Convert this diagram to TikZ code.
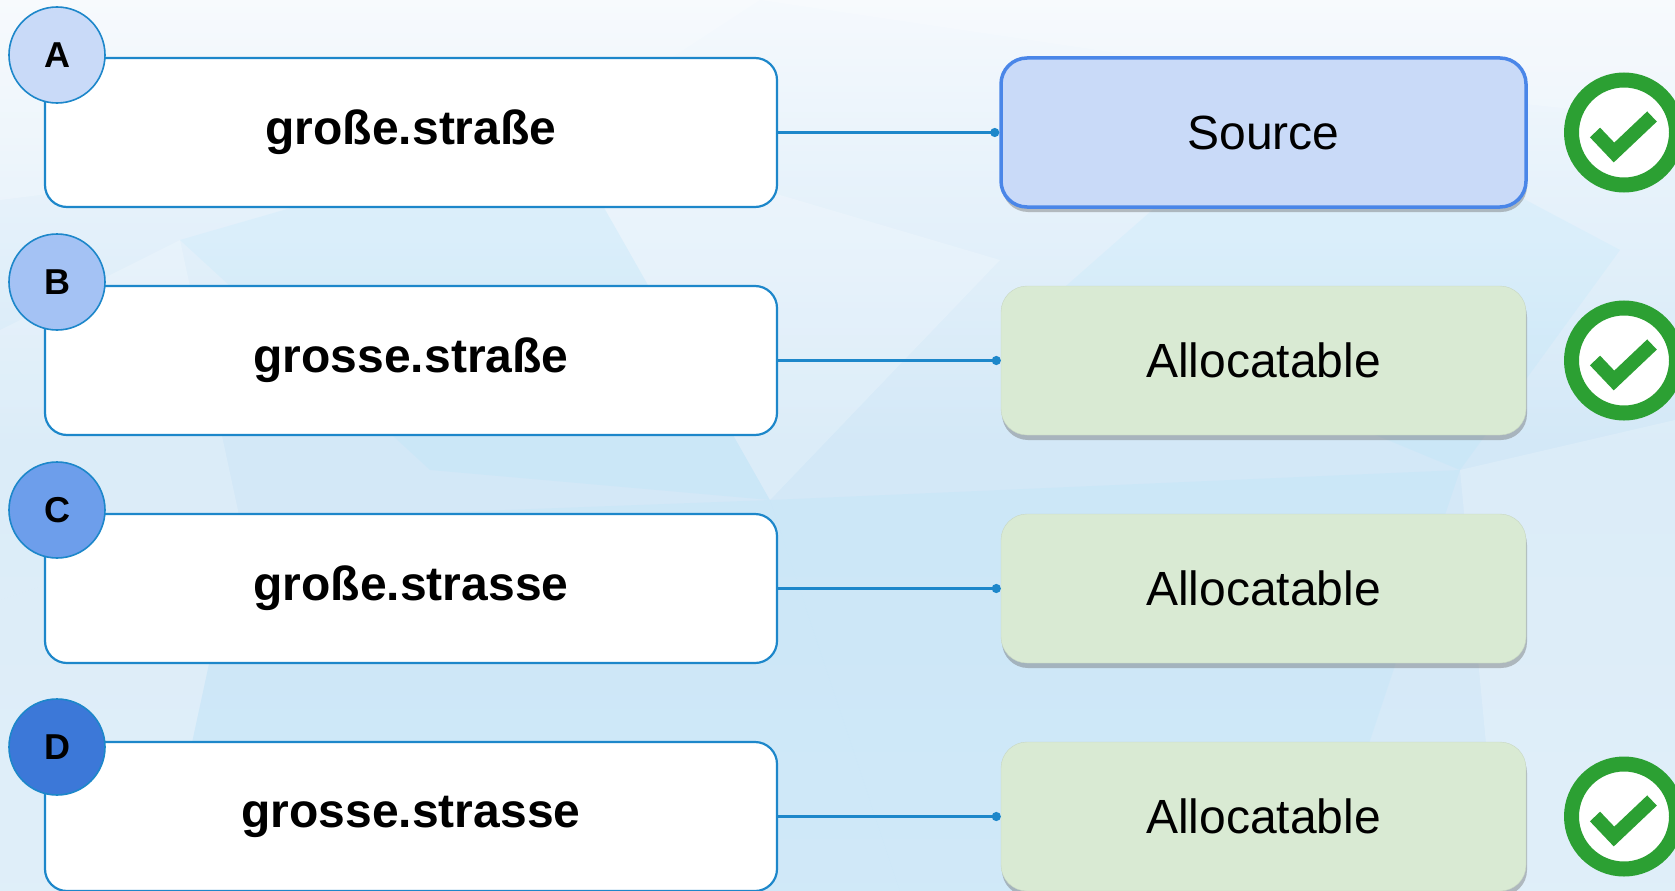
\documentclass[tikz,border=0pt]{standalone}
\usepackage{fontspec}
\setmainfont{Liberation Sans}
\usetikzlibrary{arrows.meta,shadows}
\definecolor{bgtop}{HTML}{F5F9FD}
\definecolor{bgmid}{HTML}{D3E8F7}
\definecolor{edgeblue}{HTML}{1D87CA}
\definecolor{circA}{HTML}{C9DAF8}
\definecolor{circB}{HTML}{A4C2F4}
\definecolor{circC}{HTML}{6D9EEB}
\definecolor{circD}{HTML}{3C78D8}
\definecolor{srcfill}{HTML}{C9DAF8}
\definecolor{srcedge}{HTML}{4A86E8}
\definecolor{allocfill}{HTML}{D9EAD3}
\definecolor{okgreen}{HTML}{2CA033}
\tikzset{
  namebox/.style={draw=edgeblue, line width=2.2pt, fill=white, rounded corners=22pt,
    minimum width=732pt, minimum height=149pt, inner sep=0pt,
    font=\fontsize{48}{56}\selectfont\bfseries},
  letter/.style={circle, draw=edgeblue, line width=1.6pt, minimum size=96pt, inner sep=0pt,
    font=\fontsize{36}{42}\selectfont\bfseries},
  srcbox/.style={draw=srcedge, line width=3.5pt, fill=srcfill, rounded corners=26pt,
    minimum width=525pt, minimum height=149pt, inner sep=0pt,
    font=\fontsize{48}{56}\selectfont,
    drop shadow={opacity=0.4, shadow xshift=1pt, shadow yshift=-5pt, fill=black!60}},
  allocbox/.style={draw=allocfill!92!black, line width=0.4pt, fill=allocfill, rounded corners=26pt,
    minimum width=525pt, minimum height=149pt, inner sep=0pt,
    font=\fontsize{48}{56}\selectfont,
    drop shadow={opacity=0.4, shadow xshift=1pt, shadow yshift=-5pt, fill=black!60}},
  conn/.style={draw=edgeblue, line width=2.5pt, -{Circle[length=9pt]}},
  checkring/.style={circle, draw=okgreen, line width=15pt, fill=white, minimum size=105pt, inner sep=0pt},
  checkstroke/.style={draw=okgreen, line width=14pt, line join=miter, line cap=butt},
  facet/.style={fill=white, opacity=0.2, draw=none},
  dfacet/.style={fill=blue!30!cyan!40!white, opacity=0.12, draw=none}
}
\begin{document}
\begin{tikzpicture}[x=1pt,y=-1pt]
% background
\shade[top color=bgtop, bottom color=bgmid!85!bgtop, middle color=bgmid] (0,0) rectangle (1675,891);
\useasboundingbox (0,0) rectangle (1675,891);
\fill[facet] (0,0) -- (760,0) -- (560,130) -- (0,200) -- cycle;
\fill[facet] (760,0) -- (1675,0) -- (1675,120) -- (1300,80) -- cycle;
\fill[facet] (0,330) -- (180,240) -- (240,520) -- (0,600) -- cycle;
\fill[dfacet] (180,240) -- (560,130) -- (770,500) -- (430,470) -- cycle;
\fill[facet] (560,130) -- (1000,260) -- (770,500) -- cycle;
\fill[dfacet] (1300,80) -- (1620,250) -- (1460,470) -- (1050,300) -- cycle;
\fill[facet] (0,600) -- (240,520) -- (160,891) -- (0,891) -- cycle;
\fill[dfacet] (240,520) -- (770,500) -- (900,891) -- (160,891) -- cycle;
\fill[facet] (1460,470) -- (1675,420) -- (1675,891) -- (1500,891) -- cycle;
\fill[dfacet] (770,500) -- (1460,470) -- (1320,891) -- (900,891) -- cycle;

% left boxes and letters
\node[namebox] (la) at (411,132.5) {große.straße};
\node[namebox] (lb) at (411,360.5) {grosse.straße};
\node[namebox] (lc) at (411,588.5) {große.strasse};
\node[namebox] (ld) at (411,816.5) {grosse.strasse};
\node[letter, fill=circA] (ka) at (57,55) {A};
\node[letter, fill=circB] (kb) at (57,282) {B};
\node[letter, fill=circC] (kc) at (57,510) {C};
\node[letter, fill=circD] (kd) at (57,747) {D};

% right boxes
\node[srcbox] (ra) at (1263.5,132.5) {Source};
\node[allocbox] (rb) at (1263.5,360.5) {Allocatable};
\node[allocbox] (rc) at (1263.5,588.5) {Allocatable};
\node[allocbox] (rd) at (1263.5,816.5) {Allocatable};

% connectors
\draw[conn] (la.east) -- (ra.west);
\draw[conn] (lb.east) -- (rb.west);
\draw[conn] (lc.east) -- (rc.west);
\draw[conn] (ld.east) -- (rd.west);

% check marks
\foreach \n/\y in {ca/132.5, cb/360.5, cd/816.5}{
  \node[checkring] (\n) at (1624,\y) {};
  \draw[checkstroke] ([shift={(-29,0)}]\n.center) -- ([shift={(-10,20)}]\n.center) -- ([shift={(28,-16)}]\n.center);
}
\end{tikzpicture}
\end{document}
